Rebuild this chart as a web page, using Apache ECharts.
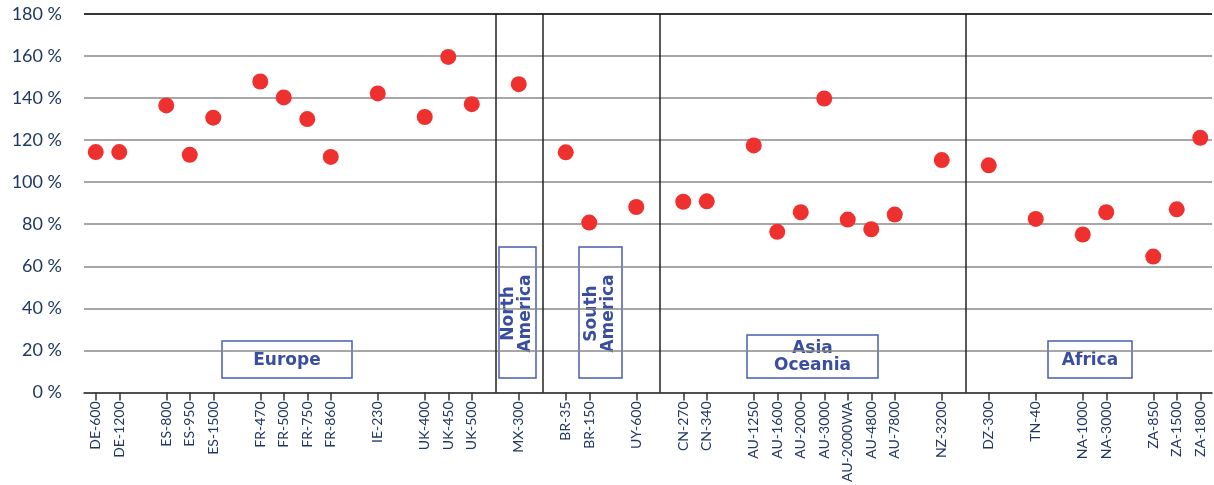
<!DOCTYPE html>
<html>
<head>
<meta charset="utf-8">
<script src="https://cdn.jsdelivr.net/npm/echarts@6/dist/echarts.min.js"></script>
<style>html,body{margin:0;padding:0;background:#fff}#c{width:1214px;height:485px}</style>
</head>
<body>
<div id="c"></div>
<script>
// Categories ('' = empty gap slot)
const categories = [
  'DE-600','DE-1200','',
  'ES-800','ES-950','ES-1500','',
  'FR-470','FR-500','FR-750','FR-860','',
  'IE-230','',
  'UK-400','UK-450','UK-500','',
  'MX-300','',
  'BR-35','BR-150','','UY-600','',
  'CN-270','CN-340','',
  'AU-1250','AU-1600','AU-2000','AU-3000','AU-2000WA','AU-4800','AU-7800','',
  'NZ-3200','',
  'DZ-300','','TN-40','','NA-1000','NA-3000','',
  'ZA-850','ZA-1500','ZA-1800'
];
// Values in % (null = gap)
const values = [
  114.3, 114.3, null,
  136.5, 113.0, 130.7, null,
  147.9, 140.3, 130.0, 112.0, null,
  142.2, null,
  131.0, 159.6, 137.1, null,
  146.6, null,
  114.2, 80.8, null, 88.2, null,
  90.7, 90.9, null,
  117.5, 76.4, 85.7, 139.8, 82.2, 77.6, 84.6, null,
  110.5, null,
  108.0, null, 82.5, null, 75.1, 85.7, null,
  64.6, 87.1, 121.1
];
// Region separators (index of the gap slot)
const separators = [17, 19, 24, 37];
const yTicks = [0, 20, 40, 60, 80, 100, 120, 140, 160, 180];
const regions = ['Europe', 'North\nAmerica', 'South\nAmerica', 'Asia\nOceania', 'Africa'];

const chart = echarts.init(document.getElementById('c'), null, {renderer: 'canvas'});
const textColor = '#1f3864';
const boxColor = '#4a5cb0';
const regionText = '#3a4ea0';

function box(x, y, w, h, text, rotate) {
  return {
    type: 'group', z: 100,
    children: [
      {type: 'rect', shape: {x: x, y: y, width: w, height: h},
       style: {fill: '#fff', stroke: boxColor, lineWidth: 1.5}},
      {type: 'text', x: x + w / 2, y: y + h / 2 + 1, rotation: rotate ? Math.PI / 2 : 0,
       style: {text: text, fill: regionText, fontWeight: 'bold', fontSize: 17,
               fontFamily: '"DejaVu Sans", sans-serif',
               align: 'center', verticalAlign: 'middle', lineHeight: 17}}
    ]
  };
}

chart.setOption({
  animation: false,
  grid: {left: 84, right: 2, top: 14, bottom: 92, containLabel: false},
  xAxis: {
    type: 'category',
    data: categories,
    boundaryGap: true,
    axisLine: {lineStyle: {color: '#333', width: 1.5}},
    axisTick: {show: true, length: 8, lineStyle: {color: '#333', width: 1.5},
               alignWithLabel: true,
               interval: function (i, v) { return v !== ''; }},
    axisLabel: {interval: 0, rotate: 90, margin: 9, color: textColor,
                fontSize: 14, fontFamily: 'Lato, sans-serif'},
    splitLine: {show: false}
  },
  yAxis: {
    type: 'value', min: 0, max: 180, interval: 20,
    axisLine: {show: false}, axisTick: {show: false},
    axisLabel: {margin: 22, color: textColor, fontSize: 18,
                fontFamily: 'Lato, sans-serif',
                formatter: function (v) { return yTicks.indexOf(v) >= 0 ? v + ' %' : ''; }},
    splitLine: {show: true, lineStyle: {color: '#8a8a8a', width: 1.5}}
  },
  series: [{
    type: 'scatter',
    data: values.map(v => v === null ? '-' : v),
    symbolSize: 16,
    itemStyle: {color: '#ee312e', opacity: 1},
    z: 5,
    markLine: {
      silent: true, symbol: 'none', label: {show: false}, animation: false,
      lineStyle: {color: '#222', width: 1.5, type: 'solid'},
      data: separators.map(i => ({xAxis: i})).concat([{yAxis: 180, lineStyle: {color: '#111', width: 1.5}}])
    }
  }],
  graphic: [
    box(222, 341, 130, 37, regions[0], false),
    box(499, 247, 37, 131, regions[1], true),
    box(579, 247, 43, 131, regions[2], true),
    box(747, 335, 131, 43, regions[3], false),
    box(1048, 341, 84, 37, regions[4], false)
  ]
});
</script>
</body>
</html>
